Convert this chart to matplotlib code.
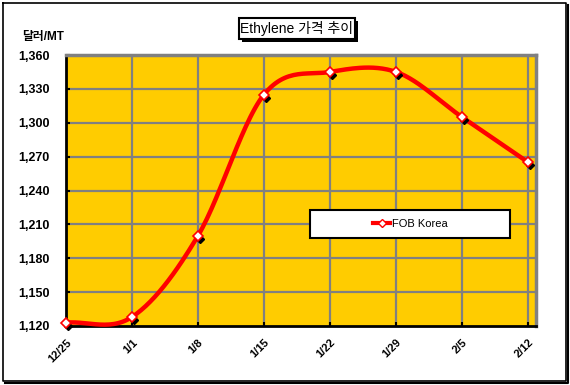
import numpy as np
import matplotlib
matplotlib.use("Agg")
import matplotlib.pyplot as plt
from matplotlib.patches import Rectangle
from matplotlib.lines import Line2D
import matplotlib.transforms as mtransforms

plt.rcParams['font.family'] = ['Liberation Sans', 'Noto Sans CJK KR', 'DejaVu Sans']

categories = ['12/25', '1/1', '1/8', '1/15', '1/22', '1/29', '2/5', '2/12']
fob_korea = [1123, 1128, 1200, 1325, 1345, 1345, 1305, 1265]
yticks = [1120, 1150, 1180, 1210, 1240, 1270, 1300, 1330, 1360]
title = 'Ethylene 가격 추이'
unit = '달러/MT'
series_name = 'FOB Korea'

W, H = 570, 385
fig = plt.figure(figsize=(W/100, H/100), dpi=100)

def fx(px): return px / W
def fy(py): return 1 - py / H

L, R, T, B = 66, 536, 55, 326
ax = fig.add_axes([fx(L), fy(B), fx(R) - fx(L), fy(T) - fy(B)])
ax.set_facecolor('#FFCC00')

n = len(categories)
x = np.arange(n)
y = np.array(fob_korea, dtype=float)

# Catmull-Rom style smoothing (like Excel smoothed line)
def smooth(xs, ys, steps=30):
    px = np.concatenate([[2*xs[0]-xs[1]], xs, [2*xs[-1]-xs[-2]]])
    py = np.concatenate([[2*ys[0]-ys[1]], ys, [2*ys[-1]-ys[-2]]])
    ox, oy = [], []
    for i in range(1, len(px)-2):
        p0, p1, p2, p3 = [np.array([px[j], py[j]]) for j in (i-1, i, i+1, i+2)]
        c1 = p1 + (p2 - p0) / 6
        c2 = p2 - (p3 - p1) / 6
        t = np.linspace(0, 1, steps)[:, None]
        pts = (1-t)**3*p1 + 3*(1-t)**2*t*c1 + 3*(1-t)*t**2*c2 + t**3*p2
        ox.extend(pts[:, 0]); oy.extend(pts[:, 1])
    return np.array(ox), np.array(oy)

sx, sy = smooth(x, y)
ax.plot(sx, sy, color='#FF0000', lw=3.2, solid_capstyle='round', zorder=3, clip_on=False)
shadow_tr = mtransforms.offset_copy(ax.transData, fig=fig, x=2, y=-3, units='dots')
ax.plot(x, y, ls='none', marker='D', ms=4, color='black', transform=shadow_tr, zorder=4, clip_on=False)
ax.plot(x, y, ls='none', marker='D', ms=5.5, mfc='white', mec='#FF0000', mew=1.2, zorder=5, clip_on=False)

ax.set_xlim(0, 7.12)
ax.set_ylim(1120, 1360)
ax.set_yticks(yticks)
ax.set_yticklabels([f'{v:,}' for v in yticks], fontsize=9, fontweight='bold')
ax.set_xticks(x)
ax.set_xticklabels(categories, rotation=45, fontsize=8, fontweight='bold',
                   ha='right', va='top', rotation_mode='anchor')
ax.tick_params(axis='both', direction='in', length=3, width=1.5, color='black')
ax.tick_params(axis='y', pad=12)
ax.tick_params(axis='x', pad=8)

for v in yticks[1:]:
    ax.axhline(v, color='#808080', lw=1.6, zorder=1)
for i in range(1, n):
    ax.axvline(i, color='#808080', lw=1.6, zorder=1)

for s in ['left', 'bottom']:
    ax.spines[s].set_color('black'); ax.spines[s].set_linewidth(2)
    ax.spines[s].set_zorder(2.5)
for s in ['top', 'right']:
    ax.spines[s].set_color('#808080'); ax.spines[s].set_linewidth(2.5)

# Legend box
fig.patches.append(Rectangle((fx(310), fy(238)), fx(510)-fx(310), fy(210)-fy(238),
                             transform=fig.transFigure, facecolor='white',
                             edgecolor='black', lw=1.5, zorder=5))
h = Line2D([], [], color='#FF0000', lw=3, marker='D', ms=4, mfc='white', mec='#FF0000')
leg = fig.legend([h], [series_name], loc='center', bbox_to_anchor=(fx(410), fy(224)),
                 frameon=False, fontsize=8, handlelength=1.6, handletextpad=0.1)
leg.set_zorder(6)

# Title box with shadow
tx0, tx1, ty0, ty1 = 239, 355, 18, 39
fig.patches.append(Rectangle((fx(tx0+3), fy(ty1+3)), fx(tx1)-fx(tx0), fy(ty0)-fy(ty1),
                             transform=fig.transFigure, facecolor='black', edgecolor='none', zorder=1))
fig.patches.append(Rectangle((fx(tx0), fy(ty1)), fx(tx1)-fx(tx0), fy(ty0)-fy(ty1),
                             transform=fig.transFigure, facecolor='white', edgecolor='black', lw=1.5, zorder=2))
fig.text(fx((tx0+tx1)/2), fy((ty0+ty1)/2), title, ha='center', va='center', fontsize=10, zorder=3)

fig.text(fx(22), fy(37), unit, ha='left', va='center', fontsize=8.5, fontweight='bold')

# Outer border with shadow
bx0, bx1, by0, by1 = 3, 566, 3, 381
fig.lines.append(Line2D([fx(bx0), fx(bx1), fx(bx1), fx(bx0), fx(bx0)],
                        [fy(by0), fy(by0), fy(by1), fy(by1), fy(by0)],
                        transform=fig.transFigure, color='black', lw=1.2))
fig.lines.append(Line2D([fx(bx1+1.5), fx(bx1+1.5), fx(bx0+2)],
                        [fy(by0+2), fy(by1+1.5), fy(by1+1.5)],
                        transform=fig.transFigure, color='black', lw=1.5))

fig.savefig('out.png', dpi=100, facecolor='white')
